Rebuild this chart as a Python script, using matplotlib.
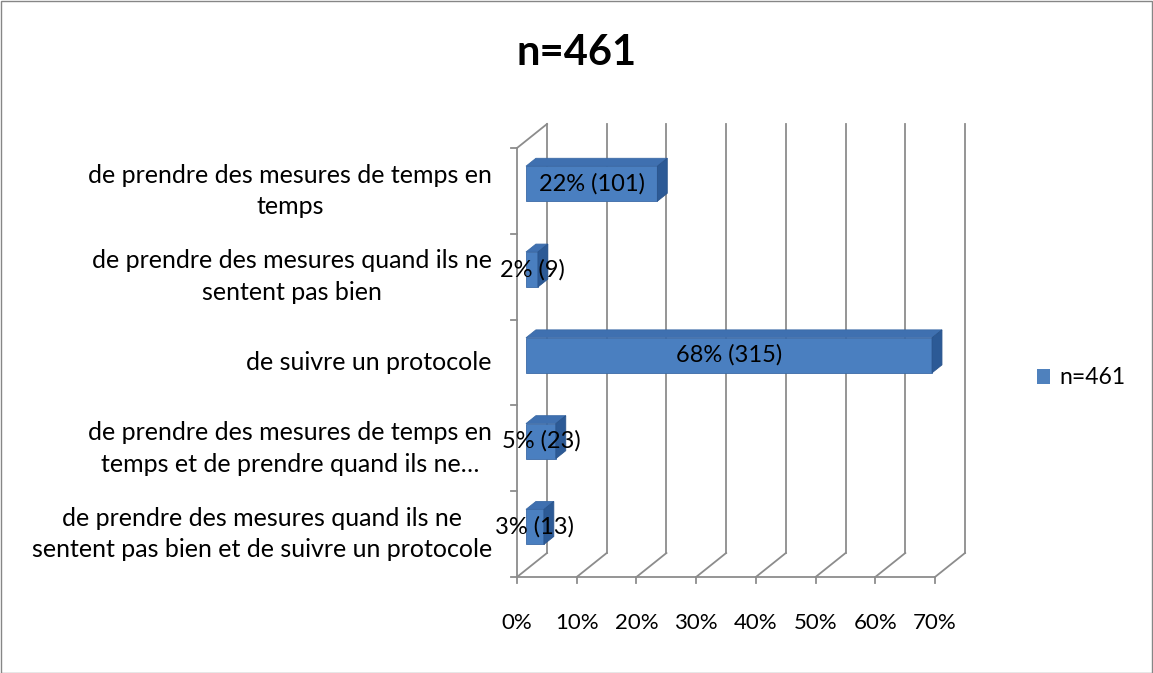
import matplotlib.pyplot as plt
from matplotlib.patches import Polygon, Patch, Rectangle

# Data
categories = [
    "de prendre des mesures de temps en\ntemps",
    "de prendre des mesures quand ils ne\nsentent pas bien",
    "de suivre un protocole",
    "de prendre des mesures de temps en\ntemps et de prendre quand ils ne…",
    "de prendre des mesures quand ils ne\nsentent pas bien et de suivre un protocole",
]
percents = [22, 2, 68, 5, 3]
counts = [101, 9, 315, 23, 13]
xticks = [0, 10, 20, 30, 40, 50, 60, 70]
series_name = "n=461"

W, H, DPI = 1153, 673, 100
fig = plt.figure(figsize=(W / DPI, H / DPI), dpi=DPI)
plt.rcParams['font.family'] = ['Lato', 'DejaVu Sans']

# front plane of the 3d box, in pixels
left, right, top, bottom = 517, 935, 148, 577
ax = fig.add_axes([left / W, 1 - bottom / H, (right - left) / W, (bottom - top) / H])
ax.set_xlim(0, 70)
ax.set_ylim(0, len(categories))
ax.axis('off')

# depth offsets (pixels -> data units)
sx = (right - left) / 70
sy = (bottom - top) / len(categories)
dx = 30 / sx
dy = 24 / sy
grid = '#8c8c8c'
lw = 1.3
n = len(categories)

# back wall gridlines
for k in xticks:
    ax.plot([k + dx, k + dx], [dy, n + dy], color=grid, lw=lw, clip_on=False, zorder=1)
    # floor diagonals
    ax.plot([k, k + dx], [0, dy], color=grid, lw=lw, clip_on=False, zorder=1)
    # bottom tick
    ax.plot([k, k], [0, -6 / sy], color=grid, lw=lw, clip_on=False, zorder=1)
ax.plot([0, 70], [0, 0], color=grid, lw=lw, clip_on=False, zorder=1)
# left wall
ax.plot([0, 0], [0, n], color=grid, lw=lw, clip_on=False, zorder=1)
ax.plot([0, dx], [n, n + dy], color=grid, lw=lw, clip_on=False, zorder=1)
for j in range(n + 1):
    ax.plot([0, -6 / sx], [j, j], color=grid, lw=lw, clip_on=False, zorder=1)

# bars
bar_h = 35 / sy
d0, d1 = 0.3, 0.63
front_c, top_c, side_c = '#4a7fc0', '#3f70b0', '#2c5a96'
for i, (p, c) in enumerate(zip(percents, counts)):
    yc = n - i - 0.5
    x0 = d0 * dx
    y0 = yc - bar_h / 2 + d0 * dy
    ox, oy = (d1 - d0) * dx, (d1 - d0) * dy
    ax.add_patch(Rectangle((x0, y0), p, bar_h, facecolor=front_c,
                           edgecolor='#3b6aa6', lw=0.6, zorder=3, clip_on=False))
    ax.add_patch(Polygon([(x0, y0 + bar_h), (x0 + p, y0 + bar_h),
                          (x0 + p + ox, y0 + bar_h + oy), (x0 + ox, y0 + bar_h + oy)],
                         closed=True, facecolor=top_c, edgecolor='#3b6aa6', lw=0.6,
                         zorder=3, clip_on=False))
    ax.add_patch(Polygon([(x0 + p, y0), (x0 + p + ox, y0 + oy),
                          (x0 + p + ox, y0 + bar_h + oy), (x0 + p, y0 + bar_h)],
                         closed=True, facecolor=side_c, edgecolor='#2a548c', lw=0.6,
                         zorder=3, clip_on=False))
    ax.text(x0 + p / 2, y0 + bar_h / 2, f"{p}% ({c})", ha='center', va='center',
            fontsize=17, color='black', zorder=5, clip_on=False)
    # category label
    ax.text(-25 / sx, yc, categories[i], ha='right', va='center', multialignment='center',
            fontsize=18, linespacing=1.45, clip_on=False)

for k in xticks:
    ax.text(k, -46 / sy, f"{k}%", ha='center', va='center', fontsize=16, clip_on=False)

fig.text(577 / W, 1 - 53 / H, "n=461", ha='center', va='center', fontsize=30, fontweight='bold')

fig.legend(handles=[Patch(facecolor='#4f81bd', label=series_name)], loc='center left',
           bbox_to_anchor=(1016 / W, 1 - 378 / H), frameon=False, fontsize=16.5,
           handlelength=0.6, handleheight=0.6, handletextpad=0.4)

# outer border
fig.patches.append(Rectangle((0.5 / W, 0.5 / H), 1 - 1.5 / W, 1 - 1.5 / H,
                             transform=fig.transFigure, fill=False,
                             edgecolor='#868686', lw=1))

fig.savefig('out.png', dpi=DPI)
